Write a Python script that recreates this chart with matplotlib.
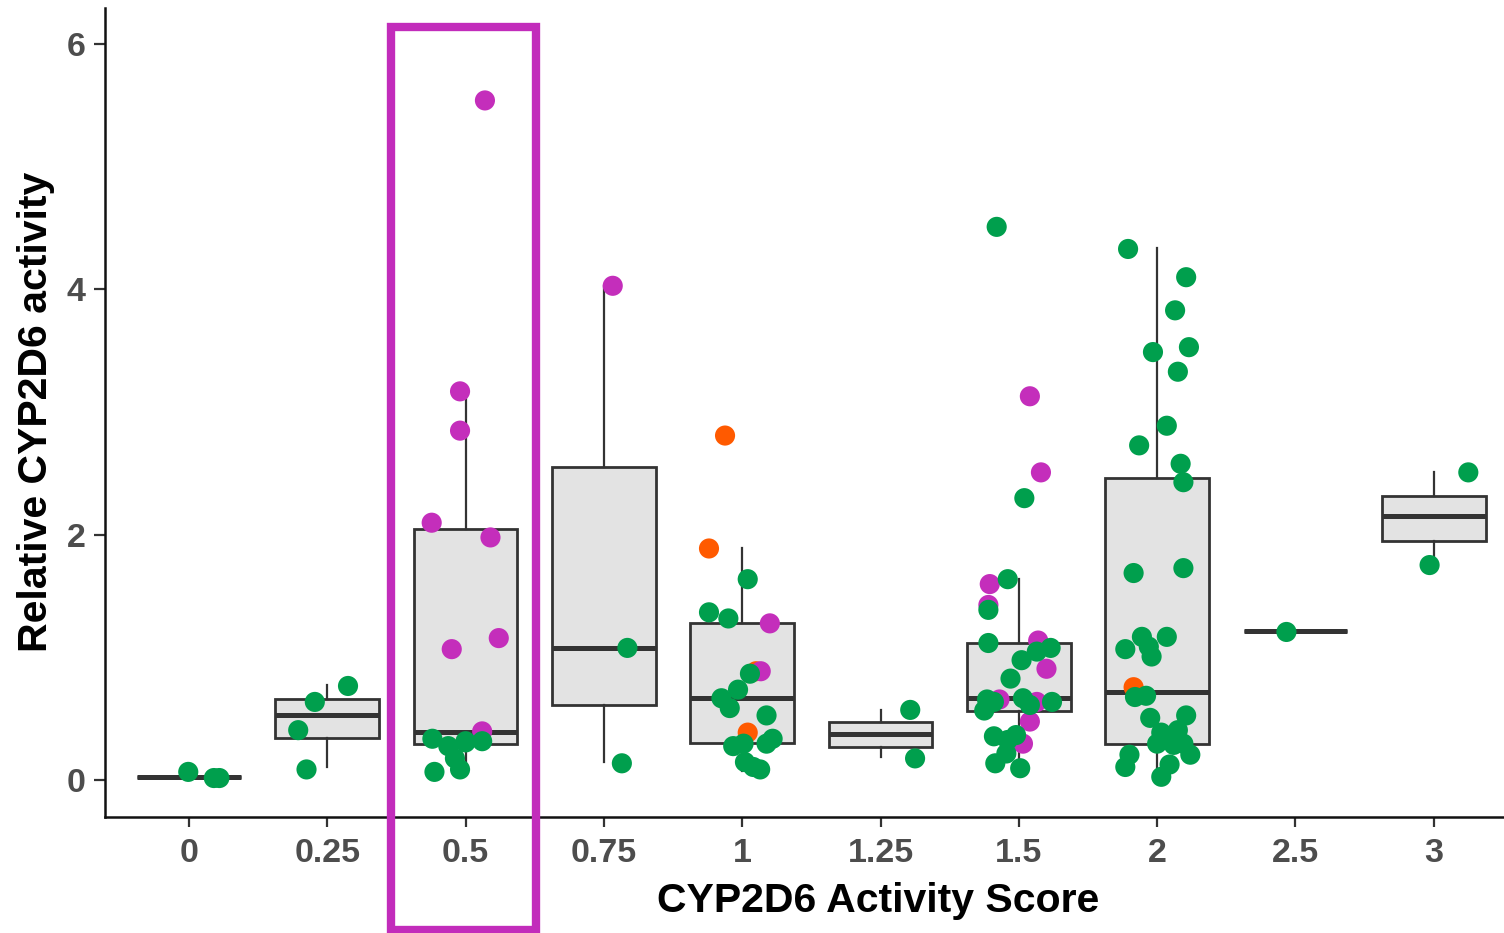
import matplotlib
matplotlib.use("Agg")
import matplotlib.pyplot as plt
import matplotlib.transforms as mtransforms
from matplotlib.patches import Rectangle

# ---------------- data ----------------
categories = ["0", "0.25", "0.5", "0.75", "1", "1.25", "1.5", "2", "2.5", "3"]

# box statistics per category
box_q1 = [0.03, 0.344, 0.297, 0.615, 0.303, 0.271, 0.566, 0.295, 1.218, 1.954]
box_med = [0.03, 0.534, 0.398, 1.082, 0.675, 0.376, 0.675, 0.718, 1.218, 2.153]
box_q3 = [0.03, 0.664, 2.049, 2.557, 1.280, 0.479, 1.118, 2.462, 1.218, 2.319]
whisk_lo = [0.03, 0.108, 0.090, 0.153, 0.080, 0.195, 0.100, 0.050, 1.218, 1.761]
whisk_hi = [0.03, 0.778, 3.167, 4.031, 1.897, 0.575, 1.642, 4.336, 1.218, 2.512]

# green points: category index, value, horizontal jitter
green_cat = [0, 0, 0,
             1, 1, 1, 1,
             2, 2, 2, 2, 2, 2, 2, 2,
             3, 3,
             4, 4, 4, 4, 4, 4, 4, 4, 4, 4, 4, 4, 4, 4, 4,
             5, 5,
             6, 6, 6, 6, 6, 6, 6, 6, 6, 6, 6, 6, 6, 6, 6, 6, 6, 6, 6, 6, 6,
             7, 7, 7, 7, 7, 7, 7, 7, 7, 7, 7, 7, 7, 7, 7, 7, 7, 7, 7, 7, 7,
             7, 7, 7, 7, 7, 7, 7, 7, 7, 7,
             8,
             9, 9]
green_val = [0.07, 0.02, 0.02,
             0.64, 0.77, 0.41, 0.09,
             0.34, 0.28, 0.32, 0.32, 0.18, 0.09, 0.07, 0.31,
             1.08, 0.14,
             1.64, 1.37, 1.32, 0.87, 0.74, 0.67, 0.59, 0.53, 0.34, 0.30, 0.28, 0.30, 0.15, 0.09, 0.11,
             0.575, 0.18,
             4.51, 2.30, 1.64, 1.39, 1.12, 1.08, 1.05, 0.98, 0.83, 0.66, 0.64, 0.67, 0.615, 0.64, 0.57,
             0.36, 0.33, 0.14, 0.22, 0.10, 0.37,
             4.33, 4.10, 3.83, 3.53, 3.49, 3.33, 2.89, 2.73, 2.58, 2.43, 1.69, 1.73, 1.17, 1.17, 1.07,
             1.09, 1.01, 0.68, 0.69, 0.51, 0.53,
             0.39, 0.41, 0.30, 0.29, 0.21, 0.21, 0.11, 0.13, 0.03, 0.30,
             1.21,
             2.51, 1.755]
green_jit = [-0.005, 0.18, 0.22,
             -0.09, 0.15, -0.21, -0.15,
             -0.24, -0.125, 0.0, 0.12, -0.077, -0.04, -0.225, 0.0,
             0.17, 0.13,
             0.04, -0.24, -0.10, 0.056, -0.03, -0.15, -0.09, 0.176, 0.22, 0.176, -0.065, 0.01, 0.02, 0.13, 0.08,
             0.215, 0.25,
             -0.16, 0.04, -0.08, -0.22, -0.22, 0.23, 0.13, 0.02, -0.06, -0.23, -0.18, 0.03, 0.08, 0.24, -0.25,
             -0.18, -0.08, -0.17, -0.09, 0.01, -0.02,
             -0.21, 0.21, 0.13, 0.23, -0.03, 0.15, 0.07, -0.13, 0.17, 0.19, -0.17, 0.19, -0.11, 0.07, -0.23,
             -0.06, -0.04, -0.16, -0.08, -0.05, 0.21,
             0.03, 0.15, 0.0, 0.12, 0.24, -0.2, -0.23, 0.09, 0.03, 0.19,
             -0.065,
             0.25, -0.03]

purple_cat = [2, 2, 2, 2, 2, 2, 2, 2,
              3,
              4, 4,
              6, 6, 6, 6, 6, 6, 6, 6, 6, 6]
purple_val = [5.54, 3.17, 2.85, 2.10, 1.98, 1.07, 1.16, 0.40,
              4.03,
              1.28, 0.89,
              3.13, 2.51, 1.60, 1.43, 1.14, 0.91, 0.66, 0.64, 0.48, 0.30]
purple_jit = [0.14, -0.04, -0.04, -0.245, 0.18, -0.10, 0.24, 0.12,
              0.064,
              0.20, 0.134,
              0.08, 0.16, -0.21, -0.22, 0.14, 0.20, -0.14, 0.13, 0.08, 0.03]

orange_cat = [4, 4, 4, 4, 7]
orange_val = [2.81, 1.89, 0.89, 0.39, 0.76]
orange_jit = [-0.124, -0.24, 0.10, 0.04, -0.17]

highlight_cat = 2  # the "0.5" group is framed

# ---------------- figure ----------------
W, H, DPI = 1504, 933, 100
fig = plt.figure(figsize=(W / DPI, H / DPI), dpi=DPI)
ax_left, ax_right = 105 / W, 1.0
ax_bottom, ax_top = (H - 816.7) / H, (H - 8) / H
ax = fig.add_axes([ax_left, ax_bottom, ax_right - ax_left, ax_top - ax_bottom])

positions = list(range(len(categories)))
stats = []
for i in positions:
    stats.append(dict(med=box_med[i], q1=box_q1[i], q3=box_q3[i],
                      whislo=whisk_lo[i], whishi=whisk_hi[i], fliers=[]))

edge = "#333333"
ax.bxp(stats, positions=positions, widths=0.75, patch_artist=True,
       showcaps=False, showfliers=False,
       boxprops=dict(facecolor="#E3E3E3", edgecolor=edge, linewidth=2.0),
       medianprops=dict(color=edge, linewidth=3.6, solid_capstyle="butt"),
       whiskerprops=dict(color=edge, linewidth=1.6),
       zorder=2)

def pts(cats, vals, jits):
    xs = [c + j for c, j in zip(cats, jits)]
    return xs, vals

ms = 210
for cats, vals, jits, col in [(orange_cat, orange_val, orange_jit, "#FF5A00"),
                              (purple_cat, purple_val, purple_jit, "#C42EBB"),
                              (green_cat, green_val, green_jit, "#009F4D")]:
    xs, ys = pts(cats, vals, jits)
    ax.scatter(xs, ys, s=ms, color=col, edgecolors="none", zorder=3)

ax.set_xlim(-0.607, 9.508)
ax.set_ylim(-0.295, 6.293)
ax.set_xticks(positions)
ax.set_xticklabels(categories)
ax.set_yticks([0, 2, 4, 6])

for s in ["top", "right"]:
    ax.spines[s].set_visible(False)
for s in ["left", "bottom"]:
    ax.spines[s].set_linewidth(1.8)
    ax.spines[s].set_color("#111111")

tick_font = dict(family="Liberation Sans", weight="bold", size=24.5)
for lab in ax.get_xticklabels() + ax.get_yticklabels():
    lab.set_fontfamily(tick_font["family"])
    lab.set_fontweight(tick_font["weight"])
    lab.set_fontsize(tick_font["size"])
    lab.set_color("#4D4D4D")
ax.tick_params(axis="x", length=7, width=1.6, color="#333333", pad=8.5)
ax.tick_params(axis="y", length=8, width=1.6, color="#333333", pad=6)

label_font = dict(family="Liberation Sans", weight="bold", size=29.5, color="black")
ax.set_xlabel("CYP2D6 Activity Score", **label_font)
ax.xaxis.set_label_coords((878 - 105) / (W - 105), -(882 - 816.7) / (816.7 - 8))
ax.set_ylabel("Relative CYP2D6 activity", **label_font)
ax.yaxis.set_label_coords((55 - 105) / (W - 105), 0.5)

# highlight frame around the 0.5 group (x in data coords, y in figure coords)
trans = mtransforms.blended_transform_factory(ax.transData, fig.transFigure)
x0 = highlight_cat - 0.536
x1 = highlight_cat + 0.508
y0 = (H - 929.5) / H
y1 = (H - 27) / H
rect = Rectangle((x0, y0), x1 - x0, y1 - y0, transform=trans, fill=False,
                 edgecolor="#C22CBB", linewidth=6, clip_on=False, zorder=5)
fig.add_artist(rect)

fig.savefig("out.png", dpi=DPI)
